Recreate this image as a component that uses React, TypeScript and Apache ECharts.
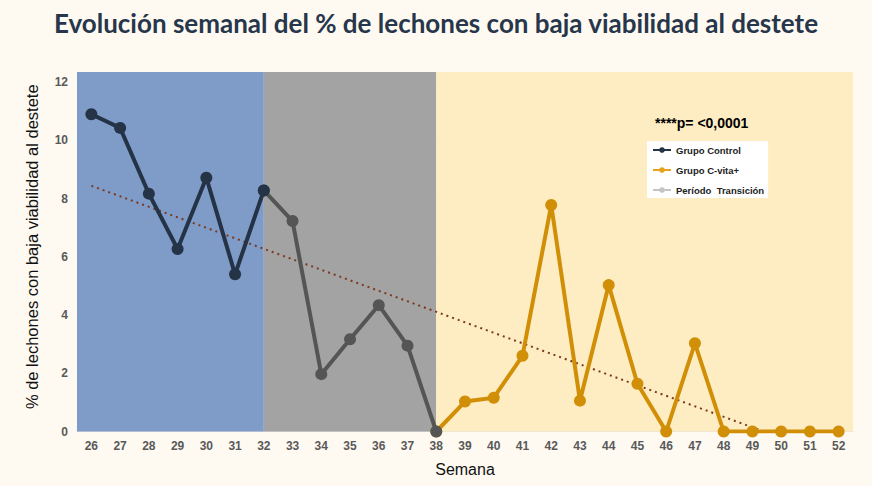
import React, { useEffect, useRef } from "react";
import * as echarts from "echarts";

// Weeks on the x axis
const weeks = [
  "26", "27", "28", "29", "30", "31", "32", "33", "34", "35", "36", "37", "38",
  "39", "40", "41", "42", "43", "44", "45", "46", "47", "48", "49", "50", "51", "52",
];

// % of piglets with low viability at weaning, per group
const controlWeeks = ["26", "27", "28", "29", "30", "31", "32"];
const controlValues = [10.9, 10.43, 8.17, 6.27, 8.72, 5.4, 8.28];

const transitionWeeks = ["32", "33", "34", "35", "36", "37", "38"];
const transitionValues = [8.28, 7.23, 1.97, 3.17, 4.34, 2.95, 0];

const cvitaWeeks = ["38", "39", "40", "41", "42", "43", "44", "45", "46", "47", "48", "49", "50", "51", "52"];
const cvitaValues = [0, 1.03, 1.16, 2.6, 7.78, 1.06, 5.03, 1.64, 0, 3.03, 0, 0, 0, 0, 0];

// Linear trend (start and end point, week / %)
const trendWeeks = [26, 49.4];
const trendValues = [8.44, 0];

// Period shading (week boundaries)
const bandStarts = [25.5, 32, 38];
const bandEnds = [32, 38, 52.5];
const bandColors = ["#7f9bc8", "#a3a3a3", "#feedc2"];

const yTicks = [0, 2, 4, 6, 8, 10, 12];

const FONT = "Liberation Sans, Arial, sans-serif";

function toSeries(groupWeeks: string[], values: number[]) {
  return weeks.map((w) => {
    const i = groupWeeks.indexOf(w);
    return i >= 0 ? values[i] : "-";
  });
}

export default function App() {
  const ref = useRef<HTMLDivElement>(null);

  useEffect(() => {
    if (!ref.current) return;
    const chart = echarts.init(ref.current, null, { renderer: "svg" });

    const option: any = {
      animation: false,
      backgroundColor: "#fefaf2",
      title: {
        text: "Evolución semanal del % de lechones con baja viabilidad al destete",
        left: "center",
        top: 5,
        textStyle: {
          fontFamily: "Lato, sans-serif",
          fontWeight: 700,
          fontSize: 26,
          color: "#27364a",
        },
      },
      graphic: [
        {
          type: "text",
          left: 655,
          top: 116,
          z: 100,
          style: {
            text: "****p= <0,0001",
            font: `bold 14px ${FONT}`,
            fill: "#000",
          },
        },
      ],
      legend: {
        orient: "vertical",
        left: 647,
        top: 141,
        backgroundColor: "#ffffff",
        padding: [4, 4, 3, 5],
        itemGap: 10,
        itemWidth: 18,
        itemHeight: 7,
        textStyle: { fontFamily: FONT, fontSize: 9.5, fontWeight: "bold", color: "#222" },
        data: [
          { name: "Grupo Control" },
          { name: "Grupo C-vita+", itemStyle: { color: "#e8a21f" }, lineStyle: { color: "#e8a21f" } },
          { name: "Período  Transición", itemStyle: { color: "#c4c4c4" }, lineStyle: { color: "#c4c4c4" } },
        ],
      },
      grid: { left: 77, right: 19, top: 72, bottom: 54.5 },
      xAxis: [
        {
          type: "category",
          data: weeks,
          boundaryGap: true,
          name: "Semana",
          nameLocation: "middle",
          nameGap: 30,
          nameTextStyle: { fontFamily: FONT, fontSize: 16, color: "#111" },
          axisLine: { show: true, lineStyle: { color: "#dddddd", width: 1 } },
          axisTick: { show: false },
          axisLabel: { fontFamily: FONT, fontSize: 12, fontWeight: "bold", color: "#595959", margin: 8 },
          splitLine: { show: false },
        },
        {
          type: "value",
          min: 25.5,
          max: 52.5,
          show: false,
        },
      ],
      yAxis: {
        type: "value",
        min: 0,
        max: 12.35,
        interval: 2,
        z: 1,
        name: "% de lechones con baja viabilidad al destete",
        nameLocation: "middle",
        nameGap: 37,
        nameTextStyle: { fontFamily: FONT, fontSize: 16.5, color: "#111", padding: [0, 0, 0, 10] },
        axisLine: { show: false },
        axisTick: { show: false },
        axisLabel: {
          fontFamily: FONT,
          fontSize: 12,
          fontWeight: "bold",
          color: "#595959",
          margin: 9,
          formatter: (v: number) => (yTicks.indexOf(v) >= 0 ? String(v) : ""),
        },
        splitLine: {
          show: true,
          lineStyle: { color: "rgba(225,225,225,0.85)", width: 1 },
        },
      },
      series: [
        {
          name: "bands",
          type: "line",
          xAxisIndex: 1,
          data: [],
          z: 0,
          silent: true,
          markArea: {
            silent: true,
            data: bandStarts.map((s, i) => [
              { xAxis: s, itemStyle: { color: bandColors[i] } },
              { xAxis: bandEnds[i] },
            ]),
          },
        },
        {
          name: "trend",
          type: "line",
          xAxisIndex: 1,
          z: 2,
          data: trendWeeks.map((w, i) => [w, trendValues[i]]),
          showSymbol: false,
          silent: true,
          lineStyle: { color: "#7b3a1c", width: 2, type: [2, 4] },
        },
        {
          name: "Grupo C-vita+",
          type: "line",
          z: 3,
          data: toSeries(cvitaWeeks, cvitaValues),
          symbol: "circle",
          symbolSize: 12,
          itemStyle: { color: "#d18f08" },
          lineStyle: { color: "#d18f08", width: 4 },
        },
        {
          name: "Período  Transición",
          type: "line",
          z: 4,
          data: toSeries(transitionWeeks, transitionValues),
          symbol: "circle",
          symbolSize: 12,
          itemStyle: { color: "#555555" },
          lineStyle: { color: "#555555", width: 4 },
        },
        {
          name: "Grupo Control",
          type: "line",
          z: 5,
          data: toSeries(controlWeeks, controlValues),
          symbol: "circle",
          symbolSize: 12,
          itemStyle: { color: "#243346" },
          lineStyle: { color: "#243346", width: 4 },
        },
      ],
    };

    chart.setOption(option);
    return () => chart.dispose();
  }, []);

  return (
    <div
      ref={ref}
      style={{ position: "fixed", left: 0, top: 0, width: 872, height: 486 }}
    />
  );
}
